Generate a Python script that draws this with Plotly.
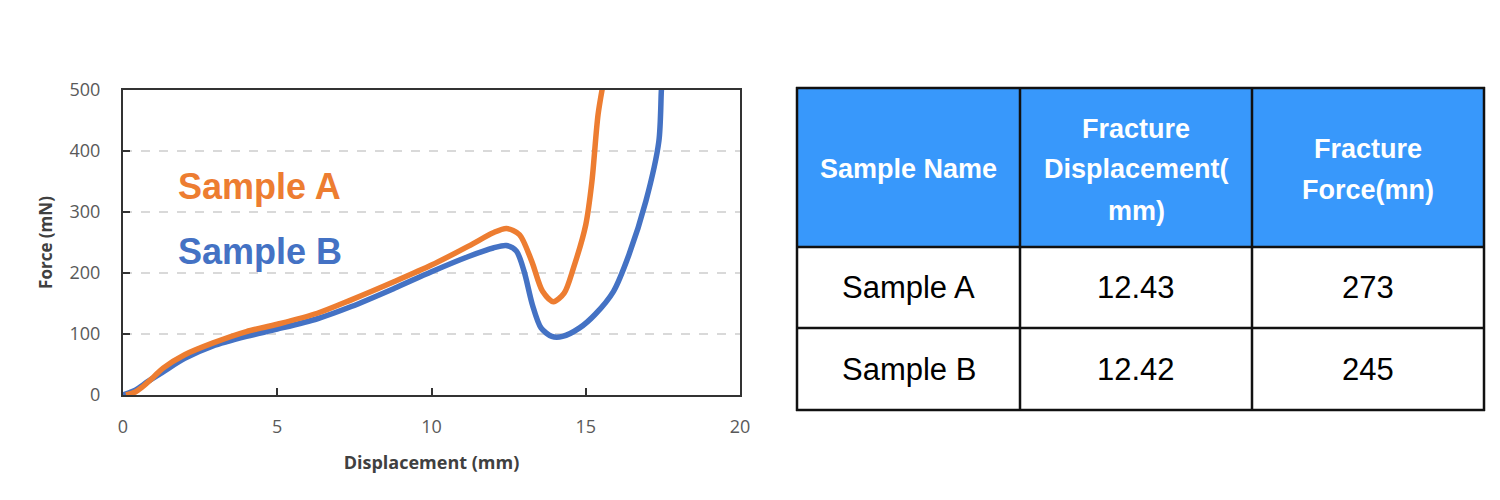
import plotly.graph_objects as go

# ---------------- data ----------------
disp_a = [0.1, 0.4, 0.6, 1.0, 1.3, 2.0, 2.9, 4.0, 5.0, 6.3, 7.4, 8.8, 10.0, 11.2, 12.0,
          12.43, 12.85, 13.25, 13.6, 13.95, 14.3, 14.6, 15.0, 15.2, 15.4, 15.6]
force_a = [0, 5, 12, 30, 44, 66, 85, 104, 116, 134, 156, 186, 213, 244, 266,
           273, 263, 219, 170, 153, 167, 208, 279, 350, 460, 520]

disp_b = [0.0, 0.4, 0.8, 1.3, 2.0, 2.9, 4.0, 5.0, 6.3, 7.4, 8.8, 10.0, 11.2, 12.0,
          12.42, 12.75, 13.0, 13.27, 13.55, 13.9, 14.25, 14.8, 15.3, 15.9, 16.4,
          16.95, 17.37, 17.45, 17.48]
force_b = [0, 8, 22, 38, 60, 80, 96, 108, 125, 145, 175, 202, 227, 241,
           245, 236, 203, 148, 110, 96, 96, 110, 132, 170, 230,
           318, 416, 498, 520]

series_names = ["Sample A", "Sample B"]
x_ticks = [0, 5, 10, 15, 20]
y_ticks = [0, 100, 200, 300, 400, 500]

header_labels = ["Sample Name", "Fracture<br>Displacement(<br>mm)", "Fracture<br>Force(mn)"]
sample_names = ["Sample A", "Sample B"]
fracture_disp = [12.43, 12.42]
fracture_force = [273, 245]

# ---------------- styles ----------------
W, H = 1500, 500
ORANGE = "#ED7D31"
BLUE = "#4472C4"
HEADER_BLUE = "#3898FB"

def px_x(p):
    return p / W

def px_y(p):
    return 1 - p / H

fig = go.Figure()

fig.add_trace(go.Scatter(x=disp_b, y=force_b, mode="lines", name=series_names[1],
                         line=dict(color=BLUE, width=5.5, shape="spline", smoothing=0.8),
                         showlegend=False))
fig.add_trace(go.Scatter(x=disp_a, y=force_a, mode="lines", name=series_names[0],
                         line=dict(color=ORANGE, width=5.5, shape="spline", smoothing=0.8),
                         showlegend=False))

# in-plot labels
fig.add_annotation(x=px_x(176), y=px_y(186), xref="paper", yref="paper",
                   text="<b>%s</b>" % series_names[0], showarrow=False,
                   xanchor="left", yanchor="middle",
                   font=dict(family="Liberation Sans, Arial", size=36, color=ORANGE))
fig.add_annotation(x=px_x(176), y=px_y(251), xref="paper", yref="paper",
                   text="<b>%s</b>" % series_names[1], showarrow=False,
                   xanchor="left", yanchor="middle",
                   font=dict(family="Liberation Sans, Arial", size=36, color=BLUE))

# ---------------- table ----------------
col_edges = [797, 1020, 1252, 1484]
row_edges = [88, 247, 328, 410]
line_spacing = 41

shapes = []
# header fill
shapes.append(dict(type="rect", xref="paper", yref="paper",
                   x0=px_x(col_edges[0]), x1=px_x(col_edges[-1]),
                   y0=px_y(row_edges[0]), y1=px_y(row_edges[1]),
                   fillcolor=HEADER_BLUE, line=dict(width=0), layer="below"))
# grid lines
for cx in col_edges:
    shapes.append(dict(type="line", xref="paper", yref="paper",
                       x0=px_x(cx), x1=px_x(cx), y0=px_y(row_edges[0] - 1), y1=px_y(row_edges[-1] + 1),
                       line=dict(color="#111111", width=2.5)))
for ry in row_edges:
    shapes.append(dict(type="line", xref="paper", yref="paper",
                       x0=px_x(col_edges[0] - 1), x1=px_x(col_edges[-1] + 1), y0=px_y(ry), y1=px_y(ry),
                       line=dict(color="#111111", width=2.5)))

annotations = []
# header text, each line placed separately for the reference's line spacing
for ci, label in enumerate(header_labels):
    lines = label.split("<br>")
    cx = (col_edges[ci] + col_edges[ci + 1]) / 2
    cy = (row_edges[0] + row_edges[1]) / 2 + 2
    n = len(lines)
    for li, ln in enumerate(lines):
        ly = cy + (li - (n - 1) / 2) * line_spacing
        annotations.append(dict(x=px_x(cx), y=px_y(ly), xref="paper", yref="paper",
                                text="<b>%s</b>" % ln, showarrow=False,
                                xanchor="center", yanchor="middle",
                                font=dict(family="Liberation Sans, Arial", size=27, color="white")))

rows = [[sample_names[i], "%.2f" % fracture_disp[i], "%d" % fracture_force[i]]
        for i in range(len(sample_names))]
for ri, row in enumerate(rows):
    cy = (row_edges[ri + 1] + row_edges[ri + 2]) / 2
    for ci, val in enumerate(row):
        cx = (col_edges[ci] + col_edges[ci + 1]) / 2
        annotations.append(dict(x=px_x(cx), y=px_y(cy), xref="paper", yref="paper",
                                text=val, showarrow=False,
                                xanchor="center", yanchor="middle",
                                font=dict(family="Liberation Sans, Arial", size=31, color="black")))

for a in annotations:
    fig.add_annotation(**a)

fig.update_layout(
    width=W, height=H,
    margin=dict(l=0, r=0, t=0, b=0, autoexpand=False),
    paper_bgcolor="white", plot_bgcolor="white",
    shapes=shapes,
    xaxis=dict(domain=[px_x(123), px_x(740)], range=[0, 20], automargin=False,
               tickvals=x_ticks, ticks="inside", ticklen=7, tickwidth=1.5, tickcolor="#333333",
               showline=True, linecolor="#333333", linewidth=2, mirror=True,
               showgrid=False, zeroline=False,
               tickfont=dict(family="Open Sans", size=18, color="#595959"),
               ticklabelstandoff=14,
               title=dict(text="<b>Displacement (mm)</b>", standoff=20,
                          font=dict(family="Open Sans", size=18, color="#404040"))),
    yaxis=dict(domain=[1 - 395 / H, 1 - 90 / H], range=[0, 500], automargin=False,
               tickvals=y_ticks, ticks="inside", ticklen=7, tickwidth=1.5, tickcolor="#333333",
               showline=True, linecolor="#333333", linewidth=2, mirror=True,
               showgrid=True, gridcolor="#d9d9d9", gridwidth=1.5, griddash="dash",
               zeroline=False,
               tickfont=dict(family="Open Sans", size=18, color="#595959"),
               ticklabelstandoff=17,
               title=dict(text="<b>Force (mN)</b>", standoff=13,
                          font=dict(family="Open Sans", size=17, color="#404040"))),
)

fig.write_html("out.html", config={"displayModeBar": False},
               post_script="document.body.style.margin='0px';document.body.style.overflow='hidden';")
